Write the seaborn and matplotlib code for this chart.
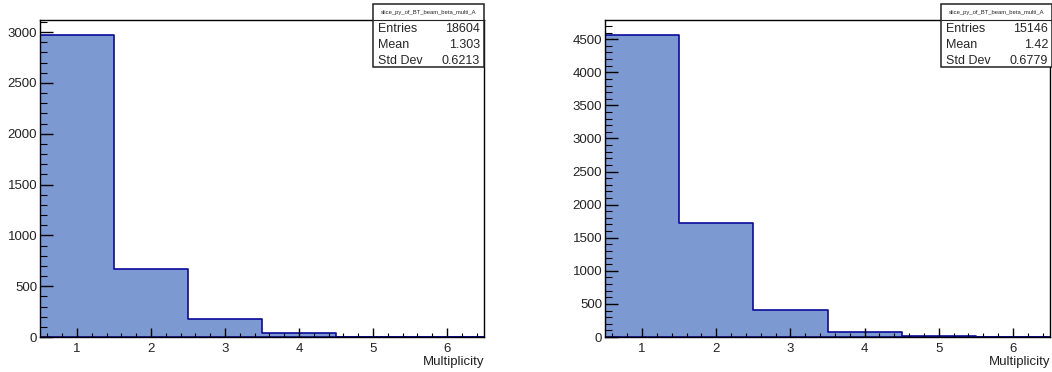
import matplotlib
matplotlib.use("Agg")
import matplotlib.pyplot as plt
from matplotlib.patches import Rectangle
from matplotlib.ticker import MultipleLocator
import seaborn as sns

# histogram contents (bin centres 1..6)
multiplicity = [1, 2, 3, 4, 5, 6]
bin_edges = [0.5, 1.5, 2.5, 3.5, 4.5, 5.5, 6.5]
counts_left = [2970, 668, 175, 35, 2, 0]
counts_right = [4562, 1726, 408, 76, 9, 2]

hist_name = "slice_py_of_BT_beam_beta_multi_A"
stats_left = ["18604", "1.303", "0.6213"]
stats_right = ["15146", "1.42", "0.6779"]
stat_labels = ["Entries", "Mean", "Std Dev"]

sns.set_style("white")
plt.rcParams["font.family"] = ["Liberation Sans", "DejaVu Sans"]

W, H = 1052, 372
fig = plt.figure(figsize=(W / 100, H / 100), dpi=100)


def px_axes(x0, y0, x1, y1):
    return fig.add_axes([x0 / W, 1 - y1 / H, (x1 - x0) / W, (y1 - y0) / H])


def draw_hist(ax, counts, ymajor):
    sns.histplot(x=multiplicity, weights=counts, bins=bin_edges, element="step",
                 fill=True, ax=ax, alpha=1, facecolor="#7d99d1",
                 edgecolor="#0a0a9a", linewidth=1.2)
    ax.set_xlim(0.5, 6.5)
    ax.set_ylim(0, 1.05 * max(counts))
    ax.xaxis.set_major_locator(MultipleLocator(1))
    ax.xaxis.set_minor_locator(MultipleLocator(0.2))
    ax.yaxis.set_major_locator(MultipleLocator(ymajor))
    ax.yaxis.set_minor_locator(MultipleLocator(ymajor / 5))
    ax.tick_params(axis="both", which="both", direction="in", colors="black",
                   labelsize=9.5, bottom=True, left=True, top=False, right=False)
    ax.tick_params(axis="x", which="major", length=6.5, width=1, pad=4,
                   labelcolor="#222222")
    ax.tick_params(axis="x", which="minor", length=3.2, width=0.8)
    ax.tick_params(axis="y", which="major", length=9.5, width=1, pad=2,
                   labelcolor="#222222")
    ax.tick_params(axis="y", which="minor", length=4.7, width=0.8)
    ax.set_ylabel("")
    ax.set_xlabel("Multiplicity", loc="right", fontsize=9.5, labelpad=1,
                  color="#222222")
    ax.set_axisbelow(False)
    for sp in ax.spines.values():
        sp.set_color("black")
        sp.set_linewidth(1)


def draw_stats(x0, y0, x1, y1, values):
    box = fig.add_axes([x0 / W, 1 - y1 / H, (x1 - x0) / W, (y1 - y0) / H])
    box.set_xlim(x0, x1)
    box.set_ylim(y1, y0)
    box.axis("off")
    box.add_patch(Rectangle((x0, y0), x1 - x0, y1 - y0, facecolor="white",
                            edgecolor="#222222", linewidth=1.1, clip_on=False))
    box.plot([x0, x1], [y0 + 16, y0 + 16], color="#222222", linewidth=0.8)
    box.text((x0 + x1) / 2, y0 + 8, hist_name, fontsize=4.2,
             ha="center", va="center")
    for i, (lab, val) in enumerate(zip(stat_labels, values)):
        yy = y0 + 25.5 + i * 15.5
        box.text(x0 + 5, yy, lab, fontsize=9, ha="left", va="center")
        box.text(x1 - 4, yy, val, fontsize=9, ha="right", va="center")


ax1 = px_axes(40, 20, 484, 337)
draw_hist(ax1, counts_left, 500)
ax2 = px_axes(605, 20, 1050, 337)
draw_hist(ax2, counts_right, 500)

draw_stats(373, 4, 484, 67, stats_left)
draw_stats(941, 4, 1052, 67, stats_right)

fig.savefig("out.png", dpi=100)
